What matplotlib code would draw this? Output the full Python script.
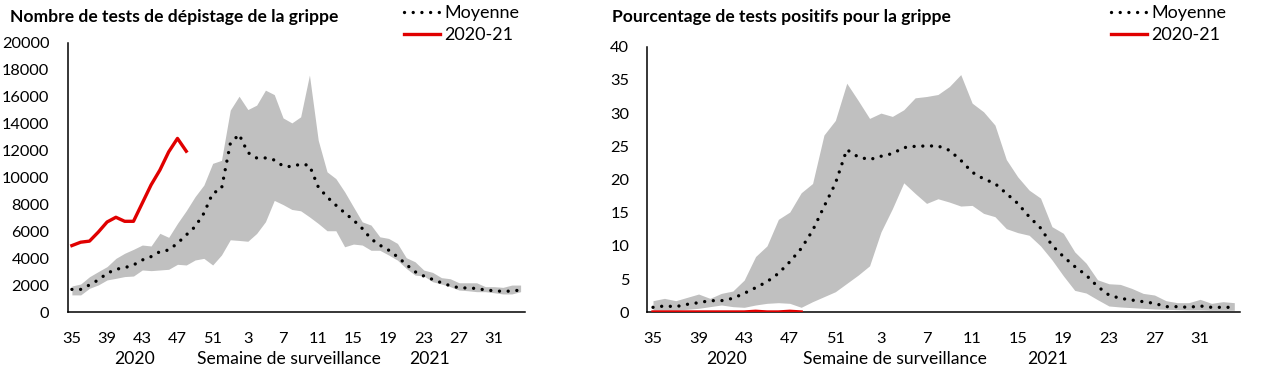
import numpy as np
import matplotlib
matplotlib.use('Agg')
from matplotlib import pyplot as plt

plt.rcParams['font.family'] = ['Lato', 'DejaVu Sans']

# semaines 35..52 puis 1..34
weeks = list(range(35, 53)) + list(range(1, 35))
tick_idx = list(range(0, 49, 4))
tick_lbl = [str(weeks[i]) for i in tick_idx]

# nombre de tests
tests_mean = [1700, 1700, 2030, 2400, 2890, 3190, 3310, 3510, 3880, 4130,
              4500, 4620, 5120, 5740, 6350, 7340, 8830, 9150, 12500, 13200,
              11850, 11450, 11450, 11300, 10850, 10800, 11000, 10900, 9300, 8560,
              7950, 7380, 6840, 6220, 5450, 4980, 4610, 4120, 3550, 3010,
              2690, 2440, 2190, 1970, 1820, 1800, 1770, 1650, 1600, 1550,
              1580, 1650]
tests_max = [1950, 2100, 2640, 3020, 3390, 4000, 4380, 4670, 4990, 4920,
             5860, 5560, 6600, 7540, 8580, 9440, 11050, 11270, 15000, 16030,
             15040, 15370, 16480, 16150, 14420, 14050, 14500, 17600, 12760, 10420,
             9920, 8940, 7820, 6710, 6470, 5600, 5480, 5110, 4050, 3750,
             3130, 2960, 2570, 2490, 2190, 2190, 2190, 1900, 1900, 1850,
             2020, 2020]
tests_min = [1290, 1290, 1780, 2030, 2400, 2520, 2650, 2690, 3140, 3090,
             3140, 3190, 3560, 3510, 3880, 4000, 3510, 4250, 5380, 5330,
             5270, 5850, 6720, 8300, 7990, 7630, 7530, 7080, 6590, 6050,
             6050, 4860, 5060, 4990, 4600, 4600, 4250, 3870, 3260, 2760,
             2690, 2270, 2100, 1900, 1650, 1600, 1530, 1530, 1450, 1360,
             1360, 1530]
tests_2020 = [4950, 5200, 5280, 5950, 6700, 7050, 6750, 6750, 8100, 9450,
              10550, 11900, 12900, 11950]

# pourcentage positifs
pos_mean = [0.75, 0.95, 0.85, 1.2, 1.45, 1.75, 1.75, 2.1, 2.85, 3.7,
            4.6, 5.85, 7.6, 9.6, 12.3, 15.9, 19.4, 24.5, 23.4, 23.0,
            23.5, 23.9, 24.8, 25.0, 25.05, 25.05, 24.4, 22.9, 21.1, 20.1,
            19.4, 17.9, 16.4, 14.4, 12.7, 10.1, 8.4, 6.9, 5.6, 3.9,
            2.6, 2.1, 1.85, 1.6, 1.35, 0.85, 0.85, 0.75, 0.95, 0.75,
            0.75, 0.75]
pos_max = [1.75, 2.1, 1.75, 2.25, 2.75, 2.1, 2.85, 3.2, 4.85, 8.4,
           10.0, 14.0, 15.1, 18.0, 19.4, 26.7, 28.9, 34.5, 31.9, 29.2,
           30.0, 29.5, 30.5, 32.3, 32.5, 32.8, 34.0, 35.8, 31.5, 30.2,
           28.2, 23.0, 20.4, 18.4, 17.2, 12.9, 11.9, 9.1, 7.4, 4.9,
           4.3, 4.2, 3.6, 2.85, 2.6, 1.75, 1.45, 1.45, 1.95, 1.35,
           1.6, 1.45]
pos_min = [0.35, 0.35, 0.35, 0.45, 0.6, 0.85, 1.1, 0.85, 0.75, 1.1,
           1.35, 1.45, 1.35, 0.75, 1.6, 2.35, 3.1, 4.35, 5.6, 7.0,
           12.1, 15.6, 19.5, 17.9, 16.4, 17.1, 16.6, 16.0, 16.1, 14.9,
           14.4, 12.6, 12.0, 11.6, 10.0, 7.9, 5.5, 3.3, 2.9, 1.9,
           0.95, 0.8, 0.7, 0.6, 0.5, 0.45, 0.4, 0.35, 0.35, 0.3,
           0.3, 0.3]
pos_2020 = [0.05, 0.05, 0.05, 0.05, 0.05, 0.05, 0.05, 0.05, 0.05, 0.15,
            0.05, 0.05, 0.15, 0.05]

GREY = '#C0C0C0'
RED = '#E00000'
W, H = 1262, 376

fig = plt.figure(figsize=(W / 100, H / 100), dpi=100)


def px(x0, y0, x1, y1):
    # pixel box -> figure fraction
    return [x0 / W, 1 - y1 / H, (x1 - x0) / W, (y1 - y0) / H]


def draw(ax, vmin, vmax, vmean, vcur, ymax, ystep):
    x = np.arange(len(weeks))
    ax.fill_between(x, vmin, vmax, color=GREY, lw=0, zorder=1)
    ax.plot(x, vmean, color='black', lw=2.4, linestyle=(0, (0.01, 2.6)),
            dash_capstyle='round', zorder=3, label='Moyenne')
    ax.plot(np.arange(len(vcur)), vcur, color=RED, lw=2.4, zorder=4,
            label='2020-21')
    ax.set_xlim(-0.5, len(weeks) - 0.5)
    ax.set_ylim(0, ymax)
    ax.set_yticks(np.arange(0, ymax + 1, ystep))
    ax.set_xticks(tick_idx)
    ax.set_xticklabels(tick_lbl)
    for s in ['top', 'right']:
        ax.spines[s].set_visible(False)
    for s in ['left', 'bottom']:
        ax.spines[s].set_linewidth(1.1)
    ax.tick_params(length=0, labelsize=11.8, pad=13)
    ax.tick_params(axis='x', pad=14)


ax1 = fig.add_axes(px(67.5, 42.7, 525, 312.3))
draw(ax1, tests_min, tests_max, tests_mean, tests_2020, 20000, 2000)
ax2 = fig.add_axes(px(647.3, 46.7, 1240, 312.3))
draw(ax2, pos_min, pos_max, pos_mean, pos_2020, 40, 5)

fig.text(10 / W, 1 - 17 / H, 'Nombre de tests de dépistage de la grippe',
         fontsize=12.6, fontweight='bold', va='center')
fig.text(612 / W, 1 - 17 / H, 'Pourcentage de tests positifs pour la grippe',
         fontsize=12.6, fontweight='bold', va='center')

for ax, lx in [(ax1, 404), (ax2, 1111)]:
    ax.legend(loc='upper left', bbox_to_anchor=(lx / W, 1 - 5 / H),
              bbox_transform=fig.transFigure, frameon=False, fontsize=13,
              borderaxespad=0, borderpad=0, handlelength=2.0,
              handletextpad=0.25, labelspacing=0.35)

sub = dict(fontsize=12.6, ha='center', va='center')
fig.text(135 / W, 1 - 359 / H, '2020', **sub)
fig.text(289 / W, 1 - 359 / H, 'Semaine de surveillance', **sub)
fig.text(430 / W, 1 - 359 / H, '2021', **sub)
fig.text(727 / W, 1 - 359 / H, '2020', **sub)
fig.text(895 / W, 1 - 359 / H, 'Semaine de surveillance', **sub)
fig.text(1048 / W, 1 - 359 / H, '2021', **sub)

fig.savefig('out.png', dpi=100)
